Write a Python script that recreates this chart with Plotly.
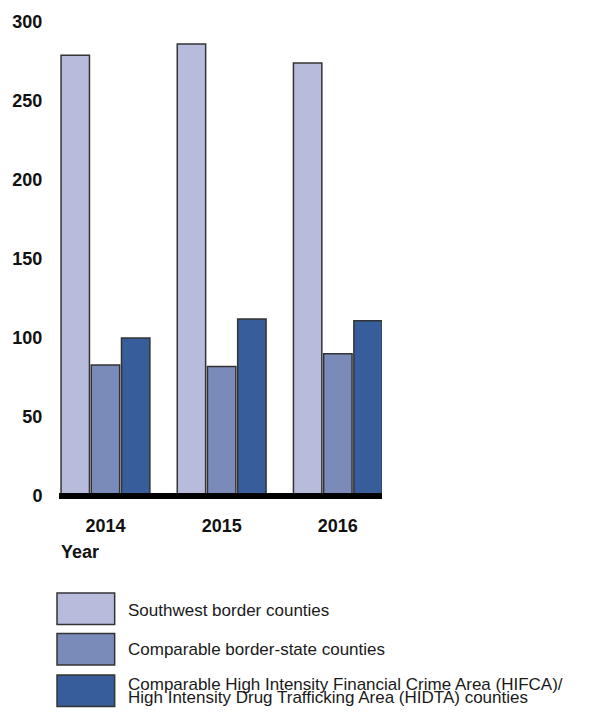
import plotly.graph_objects as go

years = ["2014", "2015", "2016"]
southwest = [279, 286, 274]
border_state = [83, 82, 90]
hifca_hidta = [100, 112, 111]
series_names = [
    "Southwest border counties",
    "Comparable border-state counties",
    "Comparable High Intensity Financial Crime Area (HIFCA)/",
]
legend_line2 = "High Intensity Drug Trafficking Area (HIDTA) counties"
colors = ["#B8BCDC", "#7A8BBA", "#375E9B"]
y_ticks = [0, 50, 100, 150, 200, 250, 300]

W, H = 613, 713
L, R, T, B = 57, 231, 16.5, 213
plot_w = W - L - R
plot_h = H - T - B

def px_x(x):
    return (x - L) / plot_w

def px_y(y):
    return (H - B - y) / plot_h

fig = go.Figure()
for name, vals, col in zip(series_names, [southwest, border_state, hifca_hidta], colors):
    fig.add_trace(go.Bar(
        x=years, y=vals, name=name,
        marker=dict(color=col, line=dict(color="#333333", width=1.5)),
        showlegend=False,
    ))

font_family = "Liberation Sans, Arial, sans-serif"

fig.update_layout(
    width=W, height=H, autosize=False,
    margin=dict(l=L, r=R, t=T, b=B, pad=0),
    paper_bgcolor="white", plot_bgcolor="white",
    barmode="group", bargap=0.22, bargroupgap=0.06,
    font=dict(family=font_family, color="#111111"),
    xaxis=dict(
        type="category", range=[-0.40, 2.38],
        showgrid=False, showline=False, zeroline=False,
        ticks="outside", ticklen=9, tickcolor="rgba(0,0,0,0)",
        tickfont=dict(size=18, weight=700, family=font_family, color="#111111"),
    ),
    yaxis=dict(
        range=[-2.5, 300], tickvals=y_ticks,
        showgrid=False, showline=False, zeroline=False,
        ticks="outside", ticklen=12, tickcolor="rgba(0,0,0,0)",
        tickfont=dict(size=18, weight=700, family=font_family, color="#111111"),
    ),
)

shapes = [dict(type="line", xref="paper", yref="y", x0=0, x1=1, y0=0, y1=0,
               line=dict(color="black", width=6), layer="above")]
annotations = [dict(text="Year", xref="paper", yref="paper", x=px_x(57), y=px_y(553),
                    xanchor="left", yanchor="middle", showarrow=False,
                    font=dict(size=18, weight=700, family=font_family, color="#111111"))]

box_tops = [594, 635, 677]
box_h = 32
for i, (name, col) in enumerate(zip(series_names, colors)):
    top = box_tops[i]
    shapes.append(dict(type="rect", xref="paper", yref="paper",
                       x0=px_x(55), x1=px_x(113), y0=px_y(top + box_h), y1=px_y(top),
                       fillcolor=col, line=dict(color="#333333", width=1.5)))
text_centers = [612, 651, 687]
for i, name in enumerate(series_names):
    annotations.append(dict(text=name, xref="paper", yref="paper",
                            x=px_x(124), y=px_y(text_centers[i]), xanchor="left", yanchor="middle",
                            showarrow=False,
                            font=dict(size=17, family=font_family, color="#1a1a1a")))
annotations.append(dict(text=legend_line2, xref="paper", yref="paper",
                        x=px_x(124), y=px_y(700), xanchor="left", yanchor="middle",
                        showarrow=False,
                        font=dict(size=17, family=font_family, color="#1a1a1a")))

fig.update_layout(shapes=shapes, annotations=annotations)
fig.write_html("out.html", config={"displayModeBar": False},
               post_script="document.body.style.margin='0';document.body.style.overflow='hidden';")
